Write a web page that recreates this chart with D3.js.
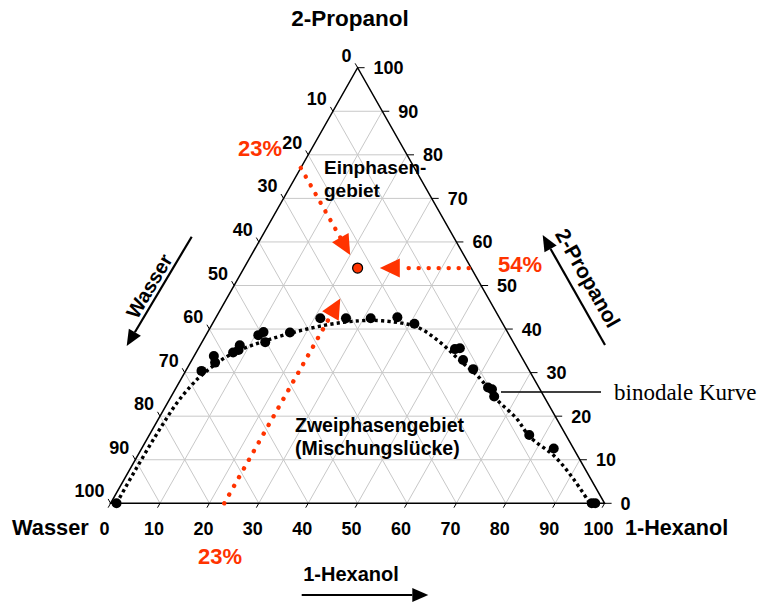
<!DOCTYPE html>
<html>
<head>
<meta charset="utf-8">
<script src="https://cdn.jsdelivr.net/npm/d3@7"></script>
<style>
  html, body { margin: 0; padding: 0; background: #fff; }
  svg { display: block; }
  .lbl { font-family: "Liberation Sans", Arial, sans-serif; font-weight: bold; }
</style>
</head>
<body>
<svg id="chart" width="764" height="603"></svg>
<script>
// Ternary diagram water / 1-hexanol / 2-propanol (mass %).
// Each composition is given as [1-Hexanol %, 2-Propanol %]; water is the remainder.

// measured points on the binodal curve
const binodalPoints = [
  [1.2, 0], [3.2, 30.4], [4.0, 33.8], [5.0, 32.3], [7.5, 34.6], [8.3, 35.2],
  [8.0, 36.3], [10.6, 38.6], [11.3, 39.3], [12.8, 37.0], [16.7, 39.2],
  [21.2, 42.5], [26.4, 42.5], [31.4, 42.5], [36.7, 42.7], [40.9, 41.2],
  [52.0, 35.4], [52.9, 35.6], [54.9, 32.9], [58.0, 30.8], [63.1, 26.6],
  [64.1, 26.2], [65.4, 24.5], [76.9, 15.7], [83.4, 12.6], [97.4, 0], [98.1, 0]
];

// fitted binodal curve (dotted)
const binodalCurve = [
  [1.2, 0], [1.2, 8], [1.4, 16], [1.9, 23], [2.8, 27], [3.7, 29.3], [7, 34],
  [14, 37.9], [23, 40.9], [29.5, 41.9], [34, 41.9], [41.7, 40.5], [48, 37.1],
  [54, 33], [60.4, 28.7], [66, 24], [72.4, 19.5], [77.2, 15.3], [84.6, 10.7],
  [91, 5.5], [97, 0]
];

// example mixture: 23 % water, 23 % 1-hexanol, 54 % 2-propanol
const mixture = { water: 23, hexanol: 23, propanol: 54 };

const tickValues = d3.range(0, 101, 10);
const gridValues = d3.range(10, 100, 10);

const componentNames = { water: "Wasser", hexanol: "1-Hexanol", propanol: "2-Propanol" };
const regionLabels = {
  single: ["Einphasen-", "gebiet"],
  twoPhase: ["Zweiphasengebiet", "(Mischungslücke)"],
  curve: "binodale Kurve"
};

const RED = "#ff3300";
const svg = d3.select("#chart");

// scales: hexanol runs along the base, propanol upward; apex sits at hexanol 50
const xs = d3.scaleLinear().domain([0, 100]).range([110.6, 604.6]);
const ys = d3.scaleLinear().domain([0, 100]).range([503.3, 67.7]);
const proj = ([h, p]) => [xs(h + p / 2), ys(p)];

// unit vectors along the two slanted edges
const apex = proj([0, 100]), W = proj([0, 0]), H = proj([100, 0]);
function unit(a, b) { const dx = b[0] - a[0], dy = b[1] - a[1], l = Math.hypot(dx, dy); return [dx / l, dy / l]; }
const downLeft = unit(apex, W);   // parallel to left edge
const upLeft = unit(H, apex);     // parallel to right edge

const line = d3.line();

// grid
const grid = svg.append("g").attr("stroke", "#c8c8c8").attr("stroke-width", 1).attr("fill", "none");
gridValues.forEach(k => {
  grid.append("path").attr("d", line([proj([0, k]), proj([100 - k, k])]));
  grid.append("path").attr("d", line([proj([k, 0]), proj([k, 100 - k])]));
  grid.append("path").attr("d", line([proj([100 - k, 0]), proj([0, 100 - k])]));
});

// triangle outline
svg.append("path")
  .attr("d", line([W, H, apex]) + "Z")
  .attr("fill", "none").attr("stroke", "#000").attr("stroke-width", 1.5);

// ticks and tick labels
const ticks = svg.append("g").attr("stroke", "#000").attr("stroke-width", 1);
const tickLbl = svg.append("g").attr("class", "lbl").attr("font-size", 18).attr("fill", "#000");
tickValues.forEach(k => {
  // bottom: 1-Hexanol
  const b = proj([k, 0]);
  ticks.append("path").attr("d", line([b, [b[0] + downLeft[0] * 5, b[1] + downLeft[1] * 5]]));
  tickLbl.append("text").attr("x", b[0] - 6).attr("y", 535).attr("text-anchor", "middle").text(k);
  // right: 2-Propanol
  const r = proj([100 - k, k]);
  ticks.append("path").attr("d", line([r, [r[0] + 7, r[1]]]));
  tickLbl.append("text").attr("x", r[0] + 16).attr("y", r[1]).attr("dy", "0.36em").text(k);
  // left: Wasser
  const l = proj([0, 100 - k]);
  ticks.append("path").attr("d", line([l, [l[0] + upLeft[0] * 5, l[1] + upLeft[1] * 5]]));
  tickLbl.append("text").attr("x", l[0] - 6).attr("y", l[1] - 6).attr("text-anchor", "end").text(k);
});

// component names at the corners
const names = svg.append("g").attr("class", "lbl").attr("fill", "#000");
names.append("text").attr("x", 350).attr("y", 26).attr("font-size", 22.5).attr("text-anchor", "middle").text(componentNames.propanol);
names.append("text").attr("x", 12).attr("y", 535).attr("font-size", 21.8).text(componentNames.water);
names.append("text").attr("x", 625).attr("y", 535).attr("font-size", 21.6).text(componentNames.hexanol);

// direction arrows beside the axes
function arrowHead(g, tip, dir, len, half, color) {
  const base = [tip[0] - dir[0] * len, tip[1] - dir[1] * len];
  const n = [-dir[1], dir[0]];
  g.append("path")
    .attr("d", line([tip, [base[0] + n[0] * half, base[1] + n[1] * half], [base[0] - n[0] * half, base[1] - n[1] * half]]) + "Z")
    .attr("fill", color).attr("stroke", "none");
  return base;
}
const axisArrows = svg.append("g");
function axisArrow(from, to) {
  const d = unit(from, to);
  const base = arrowHead(axisArrows, to, d, 16, 7, "#000");
  axisArrows.append("path").attr("d", line([from, base])).attr("stroke", "#000").attr("stroke-width", 2.2);
}
axisArrow([191.7, 236.7], [126.7, 346]);
axisArrow([605, 345], [542.7, 235]);
axisArrow([301.7, 595], [428.3, 595]);

names.append("text").attr("font-size", 20).attr("text-anchor", "middle").attr("dy", "0.36em")
  .attr("transform", "translate(149,286) rotate(-59.3)").text(componentNames.water);
names.append("text").attr("font-size", 21).attr("text-anchor", "middle").attr("dy", "0.36em")
  .attr("transform", "translate(588,278) rotate(60.5)").text(componentNames.propanol);
names.append("text").attr("x", 351).attr("y", 581).attr("font-size", 20).attr("text-anchor", "middle").text(componentNames.hexanol);

// region labels
const regions = svg.append("g").attr("class", "lbl").attr("font-size", 19.5).attr("fill", "#000");
regions.append("text").attr("x", 324).attr("y", 174).attr("font-size", 19).text(regionLabels.single[0]);
regions.append("text").attr("x", 324).attr("y", 197).attr("font-size", 19).text(regionLabels.single[1]);
regions.append("text").attr("x", 295).attr("y", 432).text(regionLabels.twoPhase[0]);
regions.append("text").attr("x", 295).attr("y", 455).text(regionLabels.twoPhase[1]);

// binodal curve (dotted) and measured points
svg.append("path")
  .attr("d", d3.line().curve(d3.curveCatmullRom.alpha(0.5))(binodalCurve.map(proj)))
  .attr("fill", "none").attr("stroke", "#000").attr("stroke-width", 3.4).attr("stroke-dasharray", "3.2 3.2");

svg.append("g").selectAll("circle").data(binodalPoints).join("circle")
  .attr("cx", d => proj(d)[0]).attr("cy", d => proj(d)[1]).attr("r", 5).attr("fill", "#000");

// callout for the binodal curve
svg.append("path").attr("d", line([[501, 392], [601, 392]])).attr("stroke", "#000").attr("stroke-width", 1.5);
svg.append("text").attr("x", 614).attr("y", 400)
  .attr("font-family", "'Liberation Serif', 'Times New Roman', serif").attr("font-size", 23)
  .text(regionLabels.curve);

// reading the mixture: dotted red guides along lines of constant composition
const guides = svg.append("g");
function guide(from, to) {
  const a = proj(from), b = proj(to);
  const d = unit(a, b);
  const base = arrowHead(guides, b, d, 20, 9.5, RED);
  guides.append("path").attr("d", line([a, base]))
    .attr("stroke", RED).attr("stroke-width", 4.4).attr("stroke-linecap", "round")
    .attr("stroke-dasharray", "0.1 9.9").attr("fill", "none");
}
const mH = mixture.hexanol, mP = mixture.propanol, mW = mixture.water;
guide([0, 100 - mW], [100 - mW - 57, 57]);          // constant water
guide([100 - mP - 0.5, mP], [mH + 4.5, mP]);        // constant 2-propanol
guide([mH, 0], [mH, 47]);                           // constant 1-hexanol

const mp = proj([mH, mP]);
svg.append("circle").attr("cx", mp[0]).attr("cy", mp[1]).attr("r", 5)
  .attr("fill", RED).attr("stroke", "#000").attr("stroke-width", 1.2);

const pct = svg.append("g").attr("class", "lbl").attr("font-size", 22).attr("fill", RED);
pct.append("text").attr("x", 260).attr("y", 156).attr("text-anchor", "middle").text(mW + "%");
pct.append("text").attr("x", 520).attr("y", 272).attr("text-anchor", "middle").text(mP + "%");
pct.append("text").attr("x", 220).attr("y", 564).attr("text-anchor", "middle").text(mH + "%");
</script>
</body>
</html>
